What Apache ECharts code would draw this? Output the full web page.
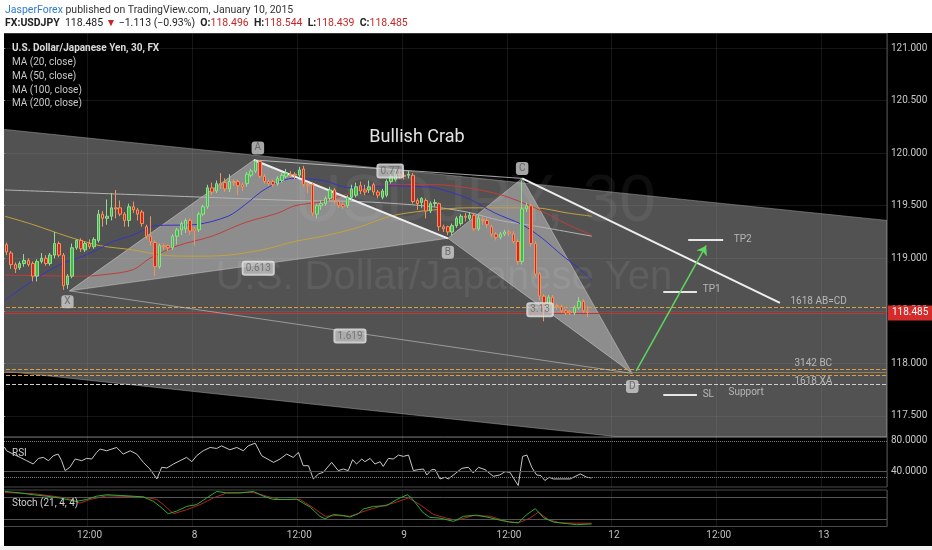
<!DOCTYPE html>
<html><head><meta charset="utf-8">
<script src="https://cdn.jsdelivr.net/npm/echarts@6/dist/echarts.min.js"></script>
<style>html,body{margin:0;padding:0;background:#fff}#c{width:932px;height:550px}</style>
</head><body><div id="c"></div>
<script>
// ---------- data ----------
const barCount = 203;              // slots on the time axis (30-min bars)
const firstBar = 1;                // index of first visible candle
const tickIndex = [20, 44, 68, 92, 116, 140, 164, 188];
const tickLabels = ['12:00', '8', '12:00', '9', '12:00', '12', '12:00', '13'];
// [open, close, low, high]
const ohlc = [
[119.13,119.06,119.03,119.15],[119.05,118.94,118.90,119.07],[118.94,118.90,118.86,118.96],[118.91,118.95,118.89,118.97],
[118.95,118.98,118.92,119.04],[118.98,118.94,118.92,119.00],[118.95,118.83,118.78,118.97],[118.83,118.97,118.78,118.99],
[118.97,119.00,118.95,119.05],[119.00,118.95,118.93,119.03],[118.95,119.03,118.93,119.05],[119.03,119.14,119.00,119.25],
[119.14,119.03,119.01,119.16],[119.03,118.74,118.70,119.05],[118.75,118.83,118.71,118.85],[118.83,119.10,118.81,119.14],
[119.10,119.17,119.08,119.18],[119.17,119.09,119.06,119.19],[119.08,119.14,119.06,119.16],[119.14,119.11,119.09,119.18],
[119.11,119.18,119.09,119.20],[119.17,119.42,119.15,119.46],[119.42,119.38,119.30,119.45],[119.38,119.40,119.32,119.56],
[119.40,119.48,119.36,119.62],[119.48,119.47,119.38,119.65],[119.48,119.42,119.40,119.55],[119.42,119.36,119.30,119.44],
[119.36,119.49,119.30,119.52],[119.49,119.46,119.43,119.54],[119.46,119.42,119.36,119.48],[119.44,119.33,119.30,119.46],
[119.30,119.21,119.18,119.32],[119.21,119.16,119.12,119.40],[119.15,118.92,118.83,119.17],[118.92,119.12,118.90,119.14],
[119.12,119.11,119.08,119.14],[119.12,119.10,119.07,119.13],[119.10,119.21,119.08,119.23],[119.21,119.27,119.13,119.29],
[119.27,119.33,119.22,119.35],[119.28,119.36,119.24,119.38],[119.36,119.26,119.22,119.38],[119.28,119.26,119.12,119.30],
[119.27,119.42,119.25,119.44],[119.42,119.49,119.40,119.51],[119.49,119.67,119.47,119.70],[119.67,119.63,119.60,119.72],
[119.64,119.71,119.62,119.74],[119.71,119.70,119.66,119.81],[119.72,119.66,119.63,119.76],[119.66,119.73,119.63,119.80],
[119.73,119.72,119.69,119.75],[119.73,119.69,119.60,119.75],[119.70,119.68,119.64,119.72],[119.71,119.80,119.68,119.82],
[119.79,119.83,119.77,119.85],[119.83,119.92,119.81,119.94],[119.92,119.78,119.76,119.93],[119.78,119.73,119.71,119.80],
[119.73,119.71,119.69,119.75],[119.73,119.70,119.68,119.75],[119.71,119.76,119.69,119.78],[119.74,119.79,119.72,119.81],
[119.78,119.81,119.76,119.85],[119.80,119.79,119.77,119.83],[119.80,119.79,119.75,119.82],[119.79,119.84,119.77,119.87],
[119.85,119.70,119.68,119.88],[119.70,119.69,119.62,119.72],[119.70,119.43,119.40,119.72],[119.42,119.50,119.38,119.52],
[119.50,119.52,119.46,119.55],[119.52,119.57,119.50,119.59],[119.57,119.65,119.55,119.68],[119.65,119.55,119.52,119.67],
[119.54,119.50,119.48,119.56],[119.51,119.49,119.47,119.53],[119.50,119.58,119.48,119.60],[119.58,119.66,119.55,119.70],
[119.60,119.68,119.58,119.72],[119.69,119.64,119.61,119.73],[119.65,119.63,119.60,119.70],[119.65,119.68,119.62,119.74],
[119.70,119.63,119.60,119.72],[119.63,119.60,119.57,119.65],[119.58,119.64,119.56,119.66],[119.60,119.73,119.58,119.75],
[119.73,119.78,119.71,119.80],[119.75,119.81,119.73,119.84],[119.80,119.79,119.76,119.85],[119.79,119.78,119.75,119.82],
[119.79,119.80,119.76,119.83],[119.79,119.54,119.52,119.81],[119.55,119.52,119.46,119.57],[119.53,119.57,119.48,119.58],
[119.55,119.45,119.38,119.57],[119.45,119.52,119.43,119.54],[119.52,119.53,119.49,119.56],[119.52,119.30,119.26,119.53],
[119.30,119.28,119.25,119.32],[119.30,119.25,119.22,119.31],[119.25,119.31,119.22,119.33],[119.31,119.38,119.29,119.40],
[119.33,119.40,119.31,119.42],[119.40,119.39,119.35,119.43],[119.38,119.41,119.36,119.44],[119.41,119.28,119.26,119.43],
[119.28,119.38,119.26,119.41],[119.37,119.36,119.32,119.40],[119.36,119.32,119.29,119.38],[119.30,119.23,119.20,119.32],
[119.23,119.20,119.17,119.25],[119.20,119.23,119.18,119.25],[119.23,119.25,119.21,119.27],[119.25,119.24,119.21,119.27],
[119.23,119.16,119.14,119.26],[119.16,118.97,118.94,119.18],[118.97,119.47,118.94,119.74],[119.47,119.50,119.44,119.53],
[119.50,119.14,119.11,119.52],[119.14,118.85,118.82,119.16],[118.85,118.64,118.60,118.87],[118.64,118.54,118.40,118.66],
[118.54,118.63,118.51,118.65],[118.63,118.55,118.52,118.65],[118.55,118.54,118.51,118.57],[118.54,118.50,118.48,118.56],
[118.50,118.48,118.46,118.52],[118.49,118.48,118.46,118.51],[118.48,118.53,118.46,118.55],[118.53,118.59,118.51,118.63],
[118.59,118.50,118.48,118.61],[118.496,118.485,118.439,118.544]
];
// moving averages: [bar index, price]
const ma20 = [[0.6,118.60],[7.1,118.79],[13.2,118.94],[18.5,119.02],[21.7,119.08],[25.4,119.16],[29.9,119.22],[35.0,119.31],[44.1,119.32],[51.7,119.40],[55.6,119.51],[59.5,119.64],[63.1,119.72],[66.3,119.76],[73.4,119.74],[79.6,119.67],[88.8,119.69],[96.3,119.68],[99.1,119.67],[106.6,119.57],[112.8,119.43],[119.0,119.32],[123.6,119.19],[128.1,119.03],[131.8,118.91],[135.0,118.79]];
const ma50 = [[0.6,118.84],[18.5,118.83],[22.4,118.84],[29.9,118.89],[33.8,119.00],[40.2,119.12],[48.0,119.21],[55.6,119.34],[63.1,119.43],[67.0,119.50],[73.4,119.54],[81.2,119.64],[88.8,119.70],[99.5,119.70],[106.6,119.67],[114.4,119.60],[121.9,119.48],[129.5,119.32],[135.0,119.22]];
const ma100 = [[0.6,119.40],[7.1,119.32],[14.8,119.21],[22.4,119.12],[29.9,119.08],[36.6,119.03],[44.1,119.02],[51.7,119.03],[59.5,119.08],[67.0,119.16],[73.4,119.21],[81.2,119.29],[88.8,119.40],[96.3,119.45],[106.6,119.48],[121.9,119.48],[129.5,119.43],[135.0,119.40]];
const ma200 = [[0.6,119.65],[33.8,119.60],[67.0,119.55],[81.2,119.54],[96.3,119.50],[106.4,119.44],[113.9,119.36],[121.5,119.31],[135.0,119.21]];
const rsi = [[0.5,72],[1.0,67.1],[2.5,62.8],[4.1,58.5],[5.6,54.2],[7.1,49.9],[8.3,57.2],[9.4,58.5],[10.6,54.2],[11.7,60.6],[12.8,62.8],[13.6,54.2],[14.4,41.3],[15.5,45.6],[16.7,56.4],[18.2,54.2],[19.3,57.2],[20.5,56.4],[21.6,64.9],[22.4,69.3],[23.9,67.1],[26.2,71.4],[27.7,62.8],[29.3,67.1],[30.8,62.8],[32.3,52.0],[33.8,43.4],[35.4,30.5],[36.5,45.6],[37.7,44.7],[39.2,49.9],[40.7,54.2],[42.2,58.5],[43.4,52.9],[44.5,60.6],[46.0,67.1],[47.6,71.4],[49.1,70.1],[50.2,73.5],[52.1,68.4],[53.7,71.4],[55.2,67.1],[56.3,73.5],[57.9,77.0],[59.4,60.6],[62.1,52.0],[63.6,56.4],[65.1,62.8],[66.6,58.5],[67.8,64.9],[68.9,47.7],[70.1,47.7],[71.2,30.5],[72.4,37.0],[73.5,39.1],[75.4,52.0],[76.9,41.3],[78.1,43.4],[79.2,41.3],[80.2,55.5],[81.1,49.9],[82.3,56.4],[83.0,52.9],[84.2,57.2],[85.3,49.9],[86.5,52.9],[87.2,46.8],[88.4,57.2],[89.5,56.4],[90.7,61.5],[91.8,59.8],[93.0,61.5],[94.1,41.3],[95.2,42.6],[96.4,43.4],[97.2,35.7],[98.3,42.6],[99.1,42.6],[100.2,30.5],[101.4,32.6],[102.1,30.5],[103.6,37.0],[105.2,44.3],[106.7,45.6],[107.8,38.3],[109.0,45.6],[110.5,42.6],[112.4,33.9],[113.9,35.7],[115.1,40.0],[116.2,39.1],[118.1,21.9],[119.1,59.8],[120.1,61.5],[121.2,45.6],[122.3,35.7],[123.3,34.8],[124.2,28.4],[125.2,32.6],[126.1,30.5],[128.1,30.5],[130.0,30.5],[132.3,37.0],[133.8,32.6],[134.9,31.8]];
const stochK = [[0.6,96],[4.1,92],[7.1,87],[10.2,83],[13.2,78],[14.8,74],[17.0,69],[19.3,74],[21.6,83],[23.9,87],[27.0,85],[30.0,83],[32.3,81],[34.6,69],[36.1,55],[38.0,35],[39.9,42],[42.2,55],[44.5,60],[46.8,78],[49.1,96],[51.4,92],[54.4,92],[57.5,96],[59.8,83],[62.1,74],[65.1,74],[67.4,75],[68.9,64],[70.5,53],[72.7,28],[73.9,21],[75.8,33],[78.1,30],[79.6,26],[81.5,35],[82.7,48],[85.0,55],[88.0,57],[90.3,74],[92.7,87],[93.7,78],[96.4,37],[97.9,25],[100.2,23],[103.3,14],[105.6,28],[108.6,31],[110.9,26],[114.0,17],[116.2,12],[118.1,10],[120.1,33],[122.0,49],[123.9,24],[126.2,12],[129.2,8],[131.5,5],[134.9,7]];
const stochD = [[0.6,93],[7.1,90],[14.8,78],[17.8,64],[20.1,74],[23.9,84],[32.3,81],[35.4,74],[36.9,60],[39.2,35],[42.2,46],[45.3,60],[48.3,78],[51.4,92],[57.5,93],[60.5,83],[63.6,74],[68.2,74],[71.2,51],[73.9,28],[76.6,30],[79.6,28],[83.4,44],[86.5,55],[89.5,64],[93.0,78],[95.6,60],[98.7,33],[101.7,23],[104.0,17],[107.8,30],[111.7,28],[115.5,14],[118.1,10],[120.8,23],[122.7,39],[125.0,19],[127.7,10],[131.5,9],[134.9,9]];
// drawings: [bar index, price]
const ptX = [15.4, 118.69], ptA = [57.6, 119.935], ptB = [102, 119.19], ptC = [119, 119.76], ptD = [144.2, 117.905];
const channel = [[-0.5,120.23],[202.5,119.36],[202.5,117.30],[141.4,117.30],[-0.5,117.93]];
const abcdEnd = [178, 118.575];
const arrowFrom = [145.1, 117.93], arrowTo = [161.1, 119.12];
const tp2 = [[157, 119.18], [165, 119.18]];
const tp1 = [[151.3, 118.68], [159, 118.68]];
const sl = [[151.3, 117.70], [159, 117.70]];
const levels = { abcd: 118.535, last: 118.485, bc: 117.94, mid: 117.915, xa: 117.885, support: 117.80 };
const ratioLabels = [['0.613', 58.6, 118.905], ['0.77', 88.8, 119.83], ['3.13', 123.1, 118.51], ['1.619', 79.6, 118.26]];
const textLabels = [['TP2', 167.3, 119.18], ['TP1', 160.2, 118.70], ['SL', 160.2, 117.70], ['Support', 166.1, 117.725],
  ['3142 BC', 181.2, 118.00], ['1618 XA', 181.2, 117.83], ['1618 AB=CD', 180.3, 118.59]];

// ---------- chart ----------
const F = 'Roboto, "Liberation Sans", sans-serif';
const gridCol = 'rgba(255,255,255,0.085)';
const categories = Array.from({length: barCount}, (_, i) => String(i));
const isTick = (i) => tickIndex.indexOf(i) >= 0;
const candleData = Array(firstBar).fill('-').concat(ohlc);

function catAxis(grid, labels) {
  return {type: 'category', gridIndex: grid, data: categories, boundaryGap: true,
    axisLine: {show: false}, axisTick: {show: false},
    axisLabel: labels ? {show: true, interval: (i) => isTick(i), formatter: (v, i) => tickLabels[tickIndex.indexOf(Number(v))] || '',
      color: '#c0c0c0', fontSize: 10, fontFamily: F, margin: 4} : {show: false},
    splitLine: {show: true, interval: (i) => isTick(i), lineStyle: {color: gridCol}}};
}
function valAxis(grid) { return {type: 'value', gridIndex: grid, min: -0.5, max: barCount - 0.5, show: false}; }

const letter = (name, p, off) => ({value: p, name, label: {show: true, position: 'inside', offset: off, formatter: name,
  backgroundColor: '#cfcfcf', color: '#5a5a5a', fontSize: 10, fontFamily: F, padding: [2, 3, 1, 3], borderRadius: 3}});
const hline = (v, color, type) => ({yAxis: v, lineStyle: {color, type, width: 1}});

const overlayData = [
  letter('X', ptX, [-2, 11]), letter('A', ptA, [4, -12]), letter('B', ptB, [0, 14]),
  letter('C', ptC, [0, -10]), letter('D', ptD, [0, 13])
].concat(ratioLabels.map(r => ({value: [r[1], r[2]], label: {show: true, position: 'inside', formatter: r[0],
  backgroundColor: 'rgba(205,205,205,0.9)', borderColor: '#eee', borderWidth: 1, color: '#666', fontSize: 10, fontFamily: F,
  padding: [2, 3, 1, 3], borderRadius: 2}})))
 .concat(textLabels.map(t => ({value: [t[1], t[2]], label: {show: true, position: 'right', distance: 0, formatter: t[0],
  color: '#d0d0d0', fontSize: 10, fontFamily: F}})));

const option = {
  backgroundColor: '#000',
  animation: false,
  grid: [
    {left: 0, top: 33, width: 887, height: 404, show: true, borderColor: '#4a4a4a', backgroundColor: 'transparent'},
    {left: 0, top: 437, width: 887, height: 50, show: true, borderColor: '#4a4a4a', backgroundColor: 'transparent'},
    {left: 0, top: 490, width: 887, height: 36.5, show: true, borderColor: '#4a4a4a', backgroundColor: 'transparent'}
  ],
  xAxis: [catAxis(0, false), valAxis(0), catAxis(1, false), valAxis(1), catAxis(2, true), valAxis(2)],
  yAxis: [
    {type: 'value', gridIndex: 0, position: 'right', min: 117.30, max: 121.143, splitNumber: 8,
      axisLine: {show: true, lineStyle: {color: '#666'}}, axisTick: {show: true, length: 3, lineStyle: {color: '#888'}},
      axisLabel: {color: '#c8c8c8', fontSize: 10, fontFamily: F, margin: 4, formatter: v => v.toFixed(3), showMinLabel: false, showMaxLabel: false},
      splitLine: {show: true, lineStyle: {color: gridCol}}},
    {type: 'value', gridIndex: 1, position: 'right', min: 20, max: 85, interval: 10,
      axisLine: {show: true, lineStyle: {color: '#666'}}, axisTick: {show: false},
      axisLabel: {color: '#c8c8c8', fontSize: 10, fontFamily: F, margin: 4, showMaxLabel: false, formatter: v => (v === 80 || v === 40) ? v.toFixed(4) : ''},
      splitLine: {show: false}},
    {type: 'value', gridIndex: 2, position: 'right', min: 0, max: 100,
      axisLine: {show: true, lineStyle: {color: '#666'}}, axisTick: {show: false}, axisLabel: {show: false}, splitLine: {show: false}}
  ],
  graphic: [
    {type: 'text', z: 3, x: 475, y: 203, style: {text: 'USDJPY, 30', font: '66px "Liberation Sans", sans-serif', fill: 'rgba(255,255,255,0.06)', align: 'center', verticalAlign: 'middle'}},
    {type: 'text', z: 3, x: 444, y: 278, style: {text: 'U.S. Dollar/Japanese Yen', font: '40px "Liberation Sans", sans-serif', fill: 'rgba(255,255,255,0.07)', align: 'center', verticalAlign: 'middle'}},
    {type: 'text', z: 10, x: 417, y: 137, style: {text: 'Bullish Crab', font: '18px ' + F, fill: '#e2e2e2', align: 'center', verticalAlign: 'middle'}},
    {type: 'text', z: 10, x: 12, y: 48, style: {text: 'U.S. Dollar/Japanese Yen, 30, FX', font: 'bold 10px ' + F, fill: '#dcdcdc', verticalAlign: 'middle'}},
    {type: 'text', z: 10, x: 12, y: 62, style: {text: 'MA (20, close)', font: '10px ' + F, fill: '#c8c8c8', verticalAlign: 'middle'}},
    {type: 'text', z: 10, x: 12, y: 76, style: {text: 'MA (50, close)', font: '10px ' + F, fill: '#c8c8c8', verticalAlign: 'middle'}},
    {type: 'text', z: 10, x: 12, y: 90, style: {text: 'MA (100, close)', font: '10px ' + F, fill: '#c8c8c8', verticalAlign: 'middle'}},
    {type: 'text', z: 10, x: 12, y: 103, style: {text: 'MA (200, close)', font: '10px ' + F, fill: '#c8c8c8', verticalAlign: 'middle'}},
    {type: 'text', z: 10, x: 12, y: 453, style: {text: 'RSI', font: '10px ' + F, fill: '#d0d0d0', verticalAlign: 'middle'}},
    {type: 'text', z: 10, x: 12, y: 503, style: {text: 'Stoch (21, 4, 4)', font: '10px ' + F, fill: '#d0d0d0', verticalAlign: 'middle'}},
    {type: 'rect', z: 100, shape: {x: 0, y: 0, width: 932, height: 33}, style: {fill: '#fff'}},
    {type: 'rect', z: 100, shape: {x: 0, y: 0, width: 4, height: 550}, style: {fill: '#fff'}},
    {type: 'rect', z: 100, shape: {x: 0, y: 546, width: 932, height: 4}, style: {fill: '#f2f2f2'}},
    {type: 'text', z: 101, x: 5, y: 10, style: {text: '{a|JasperForex} published on TradingView.com, January 10, 2015',
      font: '10.5px ' + F, fill: '#333', verticalAlign: 'middle', rich: {a: {fill: '#2b7bd0', font: '10.5px ' + F}}}},
    {type: 'text', z: 101, x: 5, y: 23, style: {text: '{b|FX:USDJPY}  118.485 {r|▼} −1.113 (−0.93%)  {b|O:}{r|118.496}  {b|H:}{r|118.544}  {b|L:}{r|118.439}  {b|C:}{r|118.485}',
      font: '10.5px ' + F, fill: '#222', verticalAlign: 'middle',
      rich: {b: {font: 'bold 10.5px ' + F, fill: '#222'}, r: {font: '10.5px ' + F, fill: '#c62828'}}}}
  ],
  series: [
    {type: 'custom', name: 'channel', xAxisIndex: 1, yAxisIndex: 0, z: 1, clip: true, silent: true, data: [[0, 118]],
      renderItem: (params, api) => ({type: 'polygon', shape: {points: channel.map(p => api.coord(p))},
        style: {fill: 'rgba(150,150,150,0.55)', stroke: 'rgba(170,170,170,0.5)', lineWidth: 1}})},
    {type: 'custom', name: 'pattern', xAxisIndex: 1, yAxisIndex: 0, z: 2, clip: true, silent: true, data: [[0, 118], [1, 118]],
      renderItem: (params, api) => {
        const tri = params.dataIndex === 0 ? [ptX, ptA, ptB] : [ptB, ptC, ptD];
        return {type: 'polygon', shape: {points: tri.map(p => api.coord(p))},
          style: {fill: 'rgba(255,255,255,0.34)', stroke: 'rgba(255,255,255,0.35)', lineWidth: 1}};
      }},
    {type: 'line', name: 'MA200', xAxisIndex: 1, yAxisIndex: 0, z: 4, data: ma200, smooth: 0.3, showSymbol: false, symbol: 'none', lineStyle: {color: '#b4b4b4', width: 1}},
    {type: 'line', name: 'MA100', xAxisIndex: 1, yAxisIndex: 0, z: 4, data: ma100, smooth: 0.3, showSymbol: false, symbol: 'none', lineStyle: {color: '#c4a23c', width: 1}},
    {type: 'line', name: 'MA50', xAxisIndex: 1, yAxisIndex: 0, z: 4, data: ma50, smooth: 0.3, showSymbol: false, symbol: 'none', lineStyle: {color: '#c43c3c', width: 1}},
    {type: 'line', name: 'MA20', xAxisIndex: 1, yAxisIndex: 0, z: 4, data: ma20, smooth: 0.3, showSymbol: false, symbol: 'none', lineStyle: {color: '#3434c8', width: 1}},
    {type: 'candlestick', name: 'USDJPY', xAxisIndex: 0, yAxisIndex: 0, z: 5, data: candleData, barWidth: 3,
      itemStyle: {color: '#3cbf3c', color0: '#dc1f1f', borderColor: '#93dc93', borderColor0: '#f0955a', borderWidth: 1}},
    {type: 'scatter', name: 'drawings', xAxisIndex: 1, yAxisIndex: 0, z: 7, symbolSize: 1, itemStyle: {color: 'rgba(0,0,0,0)'},
      silent: true, data: overlayData,
      markLine: {silent: true, symbol: ['none', 'none'], label: {show: false}, animation: false,
        data: [
          hline(levels.abcd, '#d8a040', 'dashed'),
          {yAxis: levels.last, lineStyle: {color: '#d32f2f', type: 'solid', width: 1},
            label: {show: true, position: 'end', formatter: '118.485', color: '#fff', backgroundColor: '#d52b2b',
              padding: [3, 4, 2, 4], fontSize: 10, fontFamily: F, distance: 1}},
          hline(levels.bc, '#d8a040', 'dashed'),
          hline(levels.mid, '#9a7a50', 'solid'),
          hline(levels.xa, '#d8a040', 'dashed'),
          hline(levels.support, '#cfcfcf', 'dashed'),
          [{coord: ptA}, {coord: ptC, lineStyle: {color: 'rgba(215,215,215,0.75)', width: 1, type: 'solid'}}],
          [{coord: ptX}, {coord: ptD, lineStyle: {color: 'rgba(200,200,200,0.6)', width: 1, type: 'solid'}}],
          [{coord: ptA}, {coord: ptB, lineStyle: {color: '#eeeeee', width: 2, type: 'solid'}}],
          [{coord: ptC}, {coord: abcdEnd, lineStyle: {color: '#eeeeee', width: 2, type: 'solid'}}],
          [{coord: tp2[0]}, {coord: tp2[1], lineStyle: {color: '#e6e6e6', width: 2, type: 'solid'}}],
          [{coord: tp1[0]}, {coord: tp1[1], lineStyle: {color: '#e6e6e6', width: 2, type: 'solid'}}],
          [{coord: sl[0]}, {coord: sl[1], lineStyle: {color: '#e6e6e6', width: 2, type: 'solid'}}],
          [{coord: arrowFrom, symbol: 'none'}, {coord: arrowTo, symbol: 'arrow', symbolSize: 9,
            lineStyle: {color: '#5fd65f', width: 1.5, type: 'solid'}}]
        ]}},
    {type: 'line', name: 'RSI', xAxisIndex: 3, yAxisIndex: 1, z: 4, data: rsi, showSymbol: false, symbol: 'none',
      lineStyle: {color: '#c8c8c8', width: 1},
      markLine: {silent: true, symbol: ['none', 'none'], label: {show: false}, animation: false,
        data: [hline(80, '#777', 'dotted'), hline(40, '#555', 'solid'), hline(32.5, '#777', 'dotted')]}},
    {type: 'line', name: 'StochD', xAxisIndex: 5, yAxisIndex: 2, z: 4, data: stochD, showSymbol: false, symbol: 'none',
      lineStyle: {color: '#b42222', width: 1},
      markLine: {silent: true, symbol: ['none', 'none'], label: {show: false}, animation: false,
        data: [hline(80, '#555', 'solid'), hline(20, '#555', 'solid')]}},
    {type: 'line', name: 'StochK', xAxisIndex: 5, yAxisIndex: 2, z: 5, data: stochK, showSymbol: false, symbol: 'none',
      lineStyle: {color: '#2fae2f', width: 1}}
  ]
};
const chart = echarts.init(document.getElementById('c'), null, {renderer: 'canvas'});
chart.setOption(option);
</script></body></html>
